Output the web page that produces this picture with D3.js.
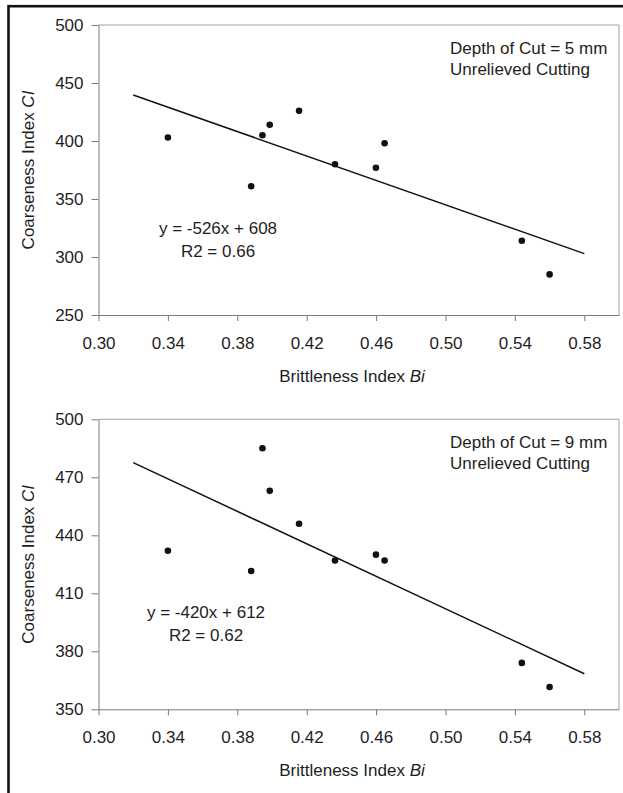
<!DOCTYPE html>
<html>
<head>
<meta charset="utf-8">
<script src="https://cdn.jsdelivr.net/npm/d3@7"></script>
<style>
  html, body { margin: 0; padding: 0; background: #fff; }
  svg { display: block; font-family: "Liberation Sans", Arial, sans-serif; }
</style>
</head>
<body>
<svg id="chart" width="623" height="793"></svg>
<script>
// Brittleness index of each rock sample (shared by both panels)
const brittleness = [0.340, 0.388, 0.3945, 0.3987, 0.4156, 0.4363, 0.4599, 0.4649, 0.544, 0.560];
// Coarseness index at 5 mm depth of cut
const coarseness5mm = [403, 361, 405, 414, 426, 380, 377, 398, 314, 285];
// Coarseness index at 9 mm depth of cut
const coarseness9mm = [432, 421.5, 485, 463, 446, 427, 430, 427, 374, 361.5];
// Linear fits  (slope, intercept, R2)
const fit5mm = { slope: -526, intercept: 608, r2: "0.66" };
const fit9mm = { slope: -420, intercept: 612, r2: "0.62" };
const fitRange = [0.32, 0.58];
// Axis ticks
const xTicks = [0.30, 0.34, 0.38, 0.42, 0.46, 0.50, 0.54, 0.58];
const yTicks5mm = [250, 300, 350, 400, 450, 500];
const yTicks9mm = [350, 380, 410, 440, 470, 500];

const svg = d3.select("#chart");
const textColor = "#1e1e1e";
const axisColor = "#7a7a7a";

// Outer frame (runs past the right and bottom edges)
svg.append("rect")
  .attr("x", 8.5).attr("y", 6.2)
  .attr("width", 640).attr("height", 820)
  .attr("fill", "none").attr("stroke", "#111").attr("stroke-width", 2.6);

function panel(opts) {
  const left = 98.5, right = 619, top = opts.top, bottom = opts.top + 290;
  const x = d3.scaleLinear().domain([0.30, 0.60]).range([left, right]);
  const y = d3.scaleLinear().domain(opts.yDomain).range([bottom, top]);
  const g = svg.append("g");

  // plot-area border (top and right)
  g.append("path")
    .attr("d", `M${left},${top}H${right}V${bottom}`)
    .attr("fill", "none").attr("stroke", "#a0a0a0").attr("stroke-width", 1);

  const xAxis = g.append("g").attr("transform", `translate(0,${bottom})`)
    .call(d3.axisBottom(x).tickValues(xTicks).tickFormat(d3.format(".2f"))
      .tickSizeInner(6).tickSizeOuter(0).tickPadding(16));
  const yAxis = g.append("g").attr("transform", `translate(${left},0)`)
    .call(d3.axisLeft(y).tickValues(opts.yTicks).tickFormat(d3.format("d"))
      .tickSizeInner(7).tickSizeOuter(0).tickPadding(8));
  [xAxis, yAxis].forEach(a => {
    a.selectAll("path, line").attr("stroke", axisColor).attr("stroke-width", 1);
    a.selectAll("text").attr("fill", textColor).style("font-size", "17px")
      .style("font-family", "'Liberation Sans', Arial, sans-serif");
  });

  // regression line
  g.append("line")
    .attr("x1", x(fitRange[0])).attr("y1", y(opts.fit.slope * fitRange[0] + opts.fit.intercept))
    .attr("x2", x(fitRange[1])).attr("y2", y(opts.fit.slope * fitRange[1] + opts.fit.intercept))
    .attr("stroke", "#111").attr("stroke-width", 1.5);

  // data points
  g.selectAll("circle.pt").data(brittleness.map((b, i) => [b, opts.values[i]]))
    .join("circle").attr("class", "pt")
    .attr("cx", d => x(d[0])).attr("cy", d => y(d[1]))
    .attr("r", 3.3).attr("fill", "#111");

  // panel note
  const note = g.append("text").attr("fill", textColor).style("font-size", "17px");
  note.append("tspan").attr("x", 450).attr("y", top + 29).text(opts.note);
  note.append("tspan").attr("x", 450).attr("y", top + 50).text("Unrelieved Cutting");

  // fit equation
  const eq = g.append("text").attr("fill", textColor).style("font-size", "17px")
    .attr("text-anchor", "middle");
  eq.append("tspan").attr("x", opts.eqX).attr("y", top + opts.eqDy)
    .text(`y = ${opts.fit.slope}x + ${opts.fit.intercept}`);
  eq.append("tspan").attr("x", opts.eqX).attr("y", top + opts.eqDy + 22.5)
    .text(`R2 = ${opts.fit.r2}`);

  // axis titles
  const xt = g.append("text").attr("fill", textColor).style("font-size", "17px")
    .attr("text-anchor", "middle").attr("x", 352).attr("y", bottom + 67);
  xt.append("tspan").text("Brittleness Index ");
  xt.append("tspan").style("font-style", "italic").text("Bi");

  const yt = g.append("text").attr("fill", textColor).style("font-size", "17px")
    .attr("text-anchor", "middle")
    .attr("transform", `translate(34,${(top + bottom) / 2}) rotate(-90)`);
  yt.append("tspan").text("Coarseness Index ");
  yt.append("tspan").style("font-style", "italic").text("CI");
}

panel({ top: 25, yDomain: [250, 500], yTicks: yTicks5mm, values: coarseness5mm,
        fit: fit5mm, note: "Depth of Cut = 5 mm", eqX: 218, eqDy: 209 });
panel({ top: 419.3, yDomain: [350, 500], yTicks: yTicks9mm, values: coarseness9mm,
        fit: fit9mm, note: "Depth of Cut = 9 mm", eqX: 206, eqDy: 199 });
</script>
</body>
</html>
